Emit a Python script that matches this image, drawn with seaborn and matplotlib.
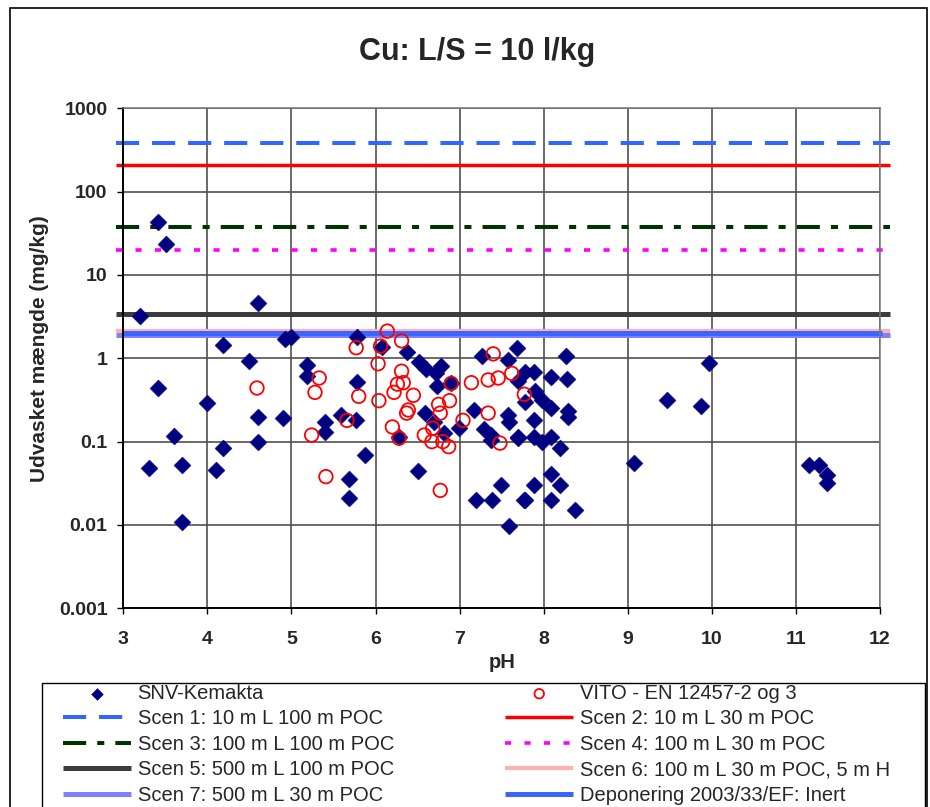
import numpy as np
import pandas as pd
import matplotlib
matplotlib.use("Agg")
import matplotlib.pyplot as plt
import seaborn as sns
from matplotlib.patches import Rectangle
from matplotlib.ticker import NullLocator

# ---------------- data ----------------
snv_ph = [3.2, 3.41, 3.51, 3.31, 3.41, 3.6, 3.7, 3.7, 4.0, 4.19, 4.1, 4.19, 4.5, 4.6, 4.6, 4.6,
          4.9, 4.92, 5.0, 5.19, 5.18, 5.4, 5.4, 5.59, 5.69, 5.69, 5.77, 5.78, 5.78, 5.88,
          6.08, 6.38, 6.52, 6.6, 6.78, 6.72, 6.73, 6.59, 6.69, 6.81, 6.99, 6.28, 6.5, 6.9,
          7.17, 7.27, 7.58, 7.68, 7.29, 7.37, 7.37, 7.58, 7.59, 7.7, 7.19, 7.38, 7.49, 7.76,
          8.27, 7.78, 7.89, 7.7, 8.09, 8.28, 7.78, 7.9, 7.98, 8.09, 8.29, 8.29, 7.88, 7.7,
          7.88, 7.98, 8.09, 8.19, 8.09, 8.19, 7.88, 7.78, 8.09, 8.37, 7.59,
          9.97, 9.47, 9.87, 9.08, 11.16, 11.27, 11.37, 11.37]
snv_cu = [3.2, 43.5, 23.5, 0.048, 0.44, 0.117, 0.052, 0.011, 0.29, 0.083, 0.046, 1.44, 0.92, 4.6, 0.2, 0.098,
          0.19, 1.7, 1.8, 0.83, 0.62, 0.17, 0.13, 0.21, 0.036, 0.021, 0.18, 1.8, 0.52, 0.07,
          1.37, 1.2, 0.9, 0.74, 0.8, 0.66, 0.46, 0.22, 0.17, 0.127, 0.145, 0.115, 0.044, 0.5,
          0.24, 1.07, 0.95, 1.32, 0.14, 0.12, 0.104, 0.21, 0.17, 0.115, 0.02, 0.02, 0.03, 0.02,
          1.06, 0.69, 0.68, 0.53, 0.59, 0.56, 0.3, 0.4, 0.32, 0.25, 0.23, 0.2, 0.18, 0.11,
          0.115, 0.1, 0.115, 0.083, 0.041, 0.03, 0.03, 0.02, 0.02, 0.015, 0.0098,
          0.88, 0.32, 0.27, 0.055, 0.052, 0.053, 0.040, 0.032]

vito_ph = [4.59, 5.33, 5.28, 5.66, 5.24, 5.41, 5.77, 5.8, 6.14, 6.31, 6.06, 6.03, 6.31, 6.26,
           6.33, 6.22, 6.45, 6.04, 6.39, 6.37, 6.2, 6.28, 6.9, 6.88, 6.75, 6.77, 6.68, 6.58,
           6.67, 6.8, 6.87, 7.04, 6.77, 7.14, 7.34, 7.46, 7.62, 7.4, 7.34, 7.48, 7.77]
vito_cu = [0.44, 0.58, 0.39, 0.18, 0.12, 0.038, 1.34, 0.35, 2.12, 1.62, 1.4, 0.86, 0.70, 0.49,
           0.51, 0.39, 0.36, 0.31, 0.24, 0.22, 0.15, 0.11, 0.50, 0.31, 0.28, 0.22, 0.145, 0.12,
           0.10, 0.10, 0.087, 0.18, 0.026, 0.51, 0.55, 0.58, 0.66, 1.13, 0.22, 0.096, 0.37]

snv_label = "SNV-Kemakta"
vito_label = "VITO - EN 12457-2 og 3"
scen_labels = ["Scen 1: 10 m L 100 m POC", "Scen 2: 10 m L 30 m POC",
               "Scen 3: 100 m L 100 m POC", "Scen 4: 100 m L 30 m POC",
               "Scen 5: 500 m L 100 m POC", "Scen 6: 100 m L 30 m POC, 5 m H",
               "Scen 7: 500 m L 30 m POC"]
scen_values = [380, 210, 38, 20, 3.4, 2.1, 1.9]
dep_label = "Deponering 2003/33/EF: Inert"
dep_value = 2.0

x_ticks = [3, 4, 5, 6, 7, 8, 9, 10, 11, 12]
y_ticks = [0.001, 0.01, 0.1, 1, 10, 100, 1000]
y_tick_labels = ["0.001", "0.01", "0.1", "1", "10", "100", "1000"]
title = "Cu: L/S = 10 l/kg"
x_label = "pH"
y_label = "Udvasket mængde (mg/kg)"

# ---------------- styles ----------------
scen_colors = ["#3366FF", "#FF0000", "#003300", "#FF00FF", "#3C3C3C", "#FFB0B0", "#8080FF"]
scen_styles = [(0, (5.75, 3.2)), "-", (0, (5.75, 2.75, 1.75, 2.75)), (0, (1.7, 3.7)), "-", "-", "-"]
scen_widths = [2.9, 2.5, 2.9, 2.6, 3.6, 3.0, 3.6]
dep_color = "#3A66FF"

W, H = 930, 807
sns.set_style("white")
plt.rcParams["font.family"] = ["Liberation Sans", "DejaVu Sans"]

fig = plt.figure(figsize=(W / 100, H / 100), dpi=100)
ax_l, ax_r, ax_t, ax_b = 123.3, 880.0, 108.3, 608.3
ax = fig.add_axes([ax_l / W, 1 - ax_b / H, (ax_r - ax_l) / W, (ax_b - ax_t) / H])

# reference lines
for val, lab, col, ls, lw in zip(scen_values, scen_labels, scen_colors, scen_styles, scen_widths):
    ax.axhline(val, xmin=-0.0097, xmax=1.0135, color=col, linestyle=ls, linewidth=lw,
               clip_on=False, label=lab, zorder=2, solid_capstyle="butt", dash_capstyle="butt")
ax.axhline(dep_value, xmin=0, xmax=1.002, color=dep_color, linewidth=3.6, clip_on=False,
           label=dep_label, zorder=2.2, solid_capstyle="butt")

# data
sns.scatterplot(x=snv_ph, y=snv_cu, marker="D", s=75, color="#000080", edgecolor="#000080",
                linewidth=0.3, label=snv_label, ax=ax, zorder=3)
sns.scatterplot(x=vito_ph, y=vito_cu, marker="o", s=95, facecolor="none", edgecolor="#FF0000",
                linewidth=1.3, label=vito_label, ax=ax, zorder=4)

ax.set_yscale("log")
ax.set_ylim(1e-3, 1e3)
ax.set_xlim(3, 12)
ax.set_yticks(y_ticks)
ax.set_yticklabels(y_tick_labels, fontweight="bold", fontsize=14)
ax.yaxis.set_minor_locator(NullLocator())
ax.set_xticks(x_ticks)
ax.set_xticklabels([str(t) for t in x_ticks], fontweight="bold", fontsize=14)
ax.tick_params(axis="y", direction="out", length=4.3, width=1, pad=7, left=True, color="black")
ax.tick_params(axis="x", direction="out", length=4, width=1, pad=12, bottom=True, color="black")
ax.grid(True, which="major", color="#505050", linewidth=1.2)
ax.set_axisbelow(True)
for side in ["left", "bottom"]:
    ax.spines[side].set_color("black")
    ax.spines[side].set_linewidth(1.4)
for side in ["top", "right"]:
    ax.spines[side].set_color("#777777")
    ax.spines[side].set_linewidth(1.1)

ax.set_xlabel(x_label, fontsize=14.5, fontweight="bold", va="center")
ax.xaxis.set_label_coords(0.5, (ax_b - 662) / (ax_b - ax_t))
ax.set_ylabel(y_label, fontsize=15, fontweight="bold", va="center")
ax.yaxis.set_label_coords((39 - ax_l) / (ax_r - ax_l), (ax_b - 349) / (ax_b - ax_t))

fig.text(477 / W, 1 - 52 / H, title, ha="center", va="center", fontsize=22, fontweight="bold")

# legend
handles, labels = ax.get_legend_handles_labels()
hmap = dict(zip(labels, handles))
left_labels = [snv_label, scen_labels[0], scen_labels[2], scen_labels[4], scen_labels[6]]
right_labels = [vito_label, scen_labels[1], scen_labels[3], scen_labels[5], dep_label]
common = dict(loc="upper left", frameon=False, borderpad=0, borderaxespad=0,
              handlelength=3.4, handletextpad=0.3, labelspacing=0.32, fontsize=14.5)
fig.legend([hmap[l] for l in left_labels], left_labels,
           bbox_to_anchor=(63 / W, 1 - 684 / H), markerscale=0.7, **common)
fig.legend([hmap[l] for l in right_labels], right_labels,
           bbox_to_anchor=(505 / W, 1 - 684 / H), markerscale=0.7, **common)
if ax.legend_ is not None:
    ax.legend_.remove()

# frames
fig.add_artist(Rectangle((10 / W, -0.2), (927 - 10) / W, 1.2 - 8 / H, transform=fig.transFigure,
                         fill=False, edgecolor="black", linewidth=1.2))
fig.add_artist(Rectangle((42 / W, -0.2), (925 - 42) / W, 0.2 + 1 - 683 / H, transform=fig.transFigure,
                         fill=False, edgecolor="black", linewidth=1.0))

fig.savefig("out.png", dpi=100)
